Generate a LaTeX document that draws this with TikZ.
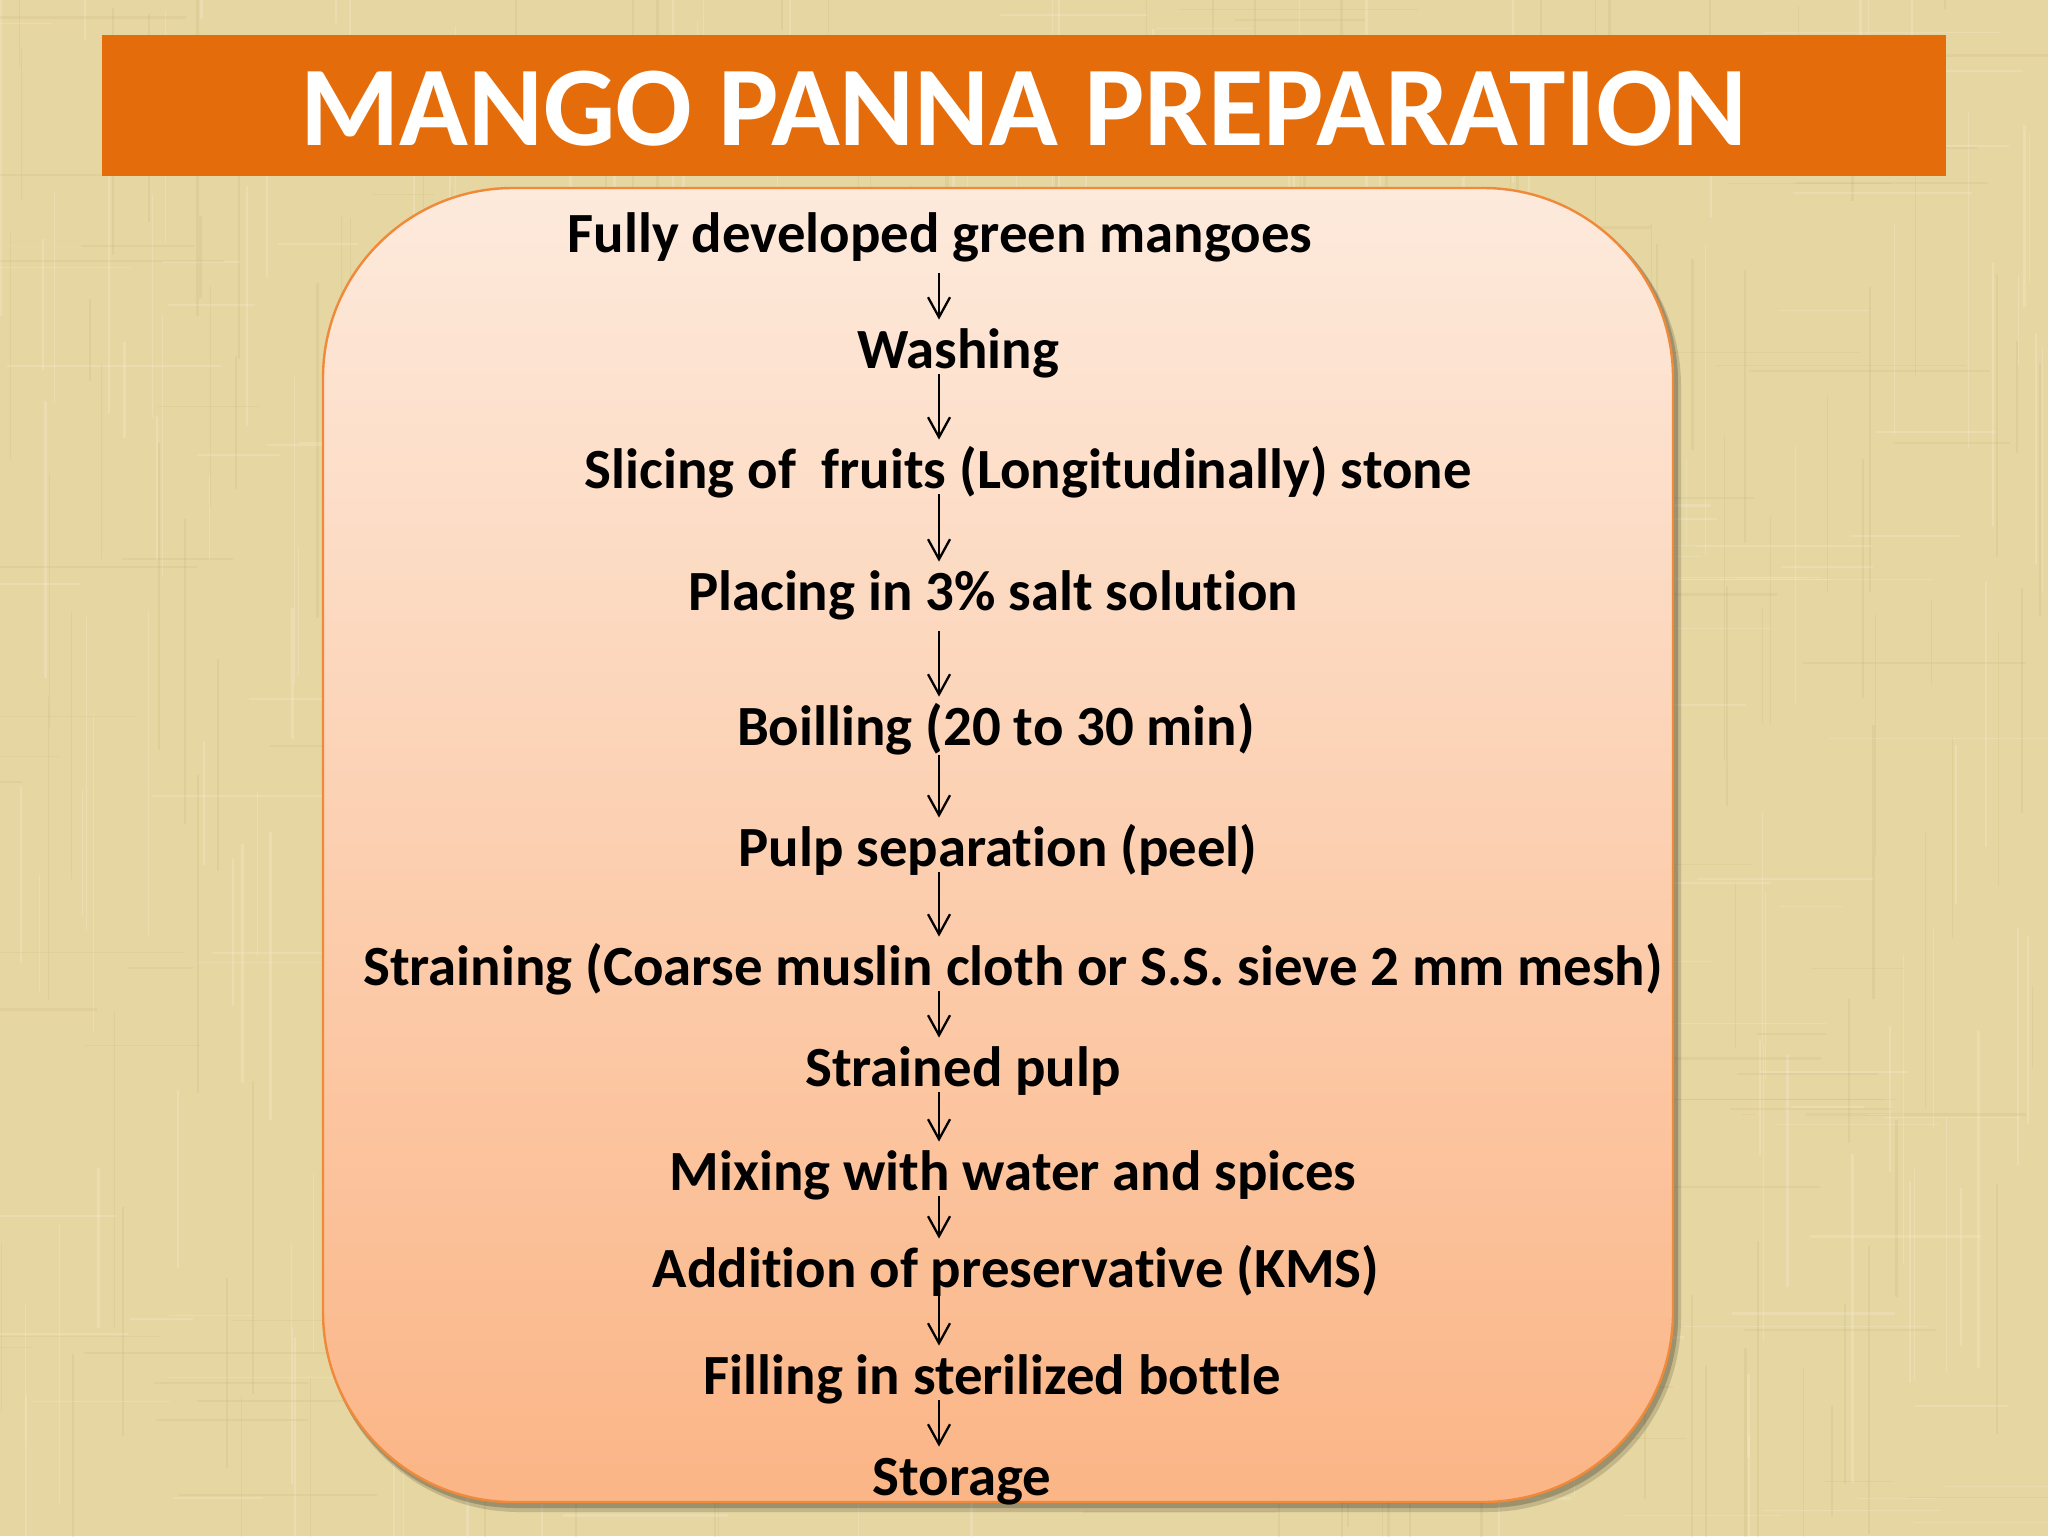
\documentclass[tikz,border=0pt]{standalone}
\usepackage{fontspec}
\setmainfont[Ligatures=NoCommon]{Carlito}
\usetikzlibrary{arrows.meta,positioning}

\definecolor{linen}{HTML}{E6D6A2}
\definecolor{linendark}{HTML}{BFAA6A}
\definecolor{linenlight}{HTML}{F7EFD4}
\definecolor{titlebar}{HTML}{E46C0A}
\definecolor{boxtop}{HTML}{FDEADC}
\definecolor{boxbottom}{HTML}{FBB586}
\definecolor{boxedge}{HTML}{F0893A}

\tikzset{
  stage/.style={inner sep=0pt, anchor=base, text height=24pt, text depth=3pt,
    font=\fontsize{28.4}{32}\selectfont\bfseries},
  heading/.style={inner sep=0pt, anchor=base, text=white,
    font=\fontsize{56.8}{60}\selectfont\bfseries},
  flow/.style={-{Straight Barb[length=10pt,width=11pt]}, line width=1.15pt},
}

\begin{document}
\begin{tikzpicture}[x=0.5pt,y=-0.5pt]
\useasboundingbox (0,0) rectangle (2048,1536);
\fill[linen] (0,0) rectangle (2048,1536);
\begin{scope}
\clip (0,0) rectangle (2048,1536);
\pgfmathsetseed{11}
\foreach \i in {1,...,420}{
  \pgfmathsetmacro\xx{2048*rnd}
  \pgfmathsetmacro\ya{1536*rnd-100}
  \pgfmathsetmacro\yb{\ya+80+260*rnd}
  \pgfmathsetmacro\ww{0.3+1.2*rnd}
  \ifodd\i
    \draw[linendark, opacity=0.18, line width=\ww pt] (\xx,\ya) -- (\xx,\yb);
  \else
    \draw[linenlight, opacity=0.3, line width=\ww pt] (\xx,\ya) -- (\xx,\yb);
  \fi
}
\foreach \i in {1,...,300}{
  \pgfmathsetmacro\yy{1536*rnd}
  \pgfmathsetmacro\xa{2048*rnd-100}
  \pgfmathsetmacro\xb{\xa+60+200*rnd}
  \pgfmathsetmacro\ww{0.3+1*rnd}
  \ifodd\i
    \draw[linendark, opacity=0.15, line width=\ww pt] (\xa,\yy) -- (\xb,\yy);
  \else
    \draw[linenlight, opacity=0.25, line width=\ww pt] (\xa,\yy) -- (\xb,\yy);
  \fi
}
\end{scope}

\fill[titlebar] (102,35) rectangle (1946,176);
\node[heading] (title) at (1024,145) {MANGO PANNA PREPARATION};

\fill[black, opacity=0.15, rounded corners=97pt] (325,192) rectangle (1681,1512);
\fill[black, opacity=0.2, rounded corners=96pt] (324,190) rectangle (1678,1508);
\path[draw=boxedge, line width=1.2pt, top color=boxtop, bottom color=boxbottom,
  rounded corners=95pt] (323,188) rectangle (1673,1502);

\node[stage] (s1) at (940,252) {Fully developed green mangoes};
\node[stage] (s2) at (958,368) {Washing};
\node[stage] (s3) at (1028,488) {Slicing of~ fruits (Longitudinally) stone};
\node[stage] (s4) at (993,610) {Placing in 3\% salt solution};
\node[stage] (s5) at (996,745) {Boilling (20 to 30 min)};
\node[stage] (s6) at (998,866) {Pulp separation (peel)};
\node[stage] (s7) at (1013,985) {Straining (Coarse muslin cloth or S.S. sieve 2 mm mesh)};
\node[stage] (s8) at (963,1086) {Strained pulp};
\node[stage] (s9) at (1013,1190) {Mixing with water and spices};
\node[stage] (s10) at (1016,1287) {Addition of preservative (KMS)};
\node[stage] (s11) at (992,1394) {Filling in sterilized bottle};
\node[stage] (s12) at (962,1495) {Storage};

\coordinate (spine) at (939,0);
\foreach \a/\b/\gap in {s1/s2/7.5pt, s2/s3/0pt, s3/s4/0pt, s4/s5/7.5pt, s5/s6/2pt,
  s6/s7/0pt, s7/s8/0pt, s8/s9/0pt, s9/s10/0pt, s10/s11/0pt, s11/s12/0pt}
  \draw[flow, shorten <=\gap] (\a.south -| spine) -- (\b.north -| spine);
\end{tikzpicture}
\end{document}
